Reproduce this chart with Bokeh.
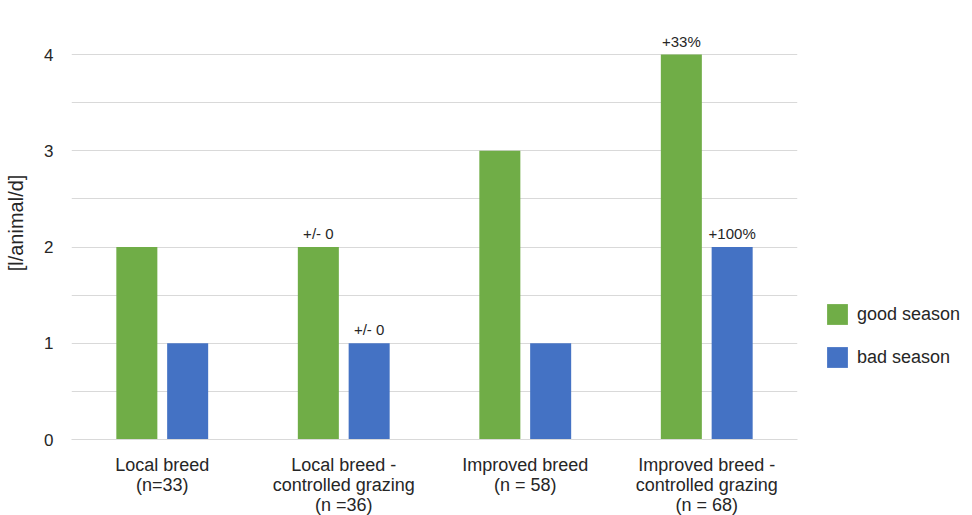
from bokeh.plotting import figure
from bokeh.models import (ColumnDataSource, FixedTicker, Range1d, Legend, LegendItem)
from bokeh.core.properties import value
from bokeh.embed import file_html
from bokeh.resources import INLINE

# Milk yield per animal and day, by herd type and season
categories = [
    "Local breed\n(n=33)",
    "Local breed -\ncontrolled grazing\n(n =36)",
    "Improved breed\n(n = 58)",
    "Improved breed -\ncontrolled grazing\n(n = 68)",
]
good_season = [2, 2, 3, 4]
bad_season = [1, 1, 1, 2]
good_change = ["", "+/- 0", "", "+33%"]
bad_change = ["", "+/- 0", "", "+100%"]
y_ticks = [0, 1, 2, 3, 4]

GREEN = "#70AD47"
BLUE = "#4472C4"
GRID = "#d9d9d9"
TEXT = "#262626"
FONT = "Liberation Sans"

centers = [i + 0.5 for i in range(len(categories))]
offset = 0.14
bar_w = 0.226

src = ColumnDataSource(dict(
    xg=[c - offset for c in centers],
    xb=[c + offset for c in centers],
    good=good_season,
    bad=bad_season,
    gl=good_change,
    bl=bad_change,
))

p = figure(frame_width=726, frame_height=433, output_backend="svg",
           toolbar_location=None,
           x_range=Range1d(0, len(categories)), y_range=Range1d(0, 4.5),
           min_border_left=71, min_border_right=175, min_border_top=6,
           min_border_bottom=76)
p.outline_line_color = None
p.background_fill_color = "white"
p.border_fill_color = "white"

r_good = p.vbar(x="xg", top="good", width=bar_w, source=src,
                fill_color=GREEN, line_color=None)
r_bad = p.vbar(x="xb", top="bad", width=bar_w, source=src,
               fill_color=BLUE, line_color=None)

# change annotations above the bars
p.text(x="xg", y="good", text="gl", source=src, text_align="center",
       text_baseline="bottom", y_offset=-5, text_font=value(FONT),
       text_font_size="15px", text_color=TEXT)
p.text(x="xb", y="bad", text="bl", source=src, text_align="center",
       text_baseline="bottom", y_offset=-5, text_font=value(FONT),
       text_font_size="15px", text_color=TEXT)

# x axis with multi-line category labels
p.xaxis.ticker = FixedTicker(ticks=centers)
p.xaxis.major_label_overrides = {c: lab for c, lab in zip(centers, categories)}
p.xaxis.major_label_text_font = FONT
p.xaxis.major_label_text_font_size = "18px"
p.xaxis.major_label_text_line_height = 1.0
p.xaxis.major_label_text_color = TEXT
p.xaxis.major_label_standoff = 9
p.xaxis.axis_line_color = GRID
p.xaxis.major_tick_line_color = None
p.xaxis.minor_tick_line_color = None
p.xgrid.grid_line_color = None

# y axis
p.yaxis.ticker = FixedTicker(ticks=y_ticks)
p.yaxis.major_label_text_font = FONT
p.yaxis.major_label_text_font_size = "17px"
p.yaxis.major_label_text_color = TEXT
p.yaxis.major_label_standoff = 12
p.yaxis.axis_line_color = None
p.yaxis.major_tick_line_color = None
p.yaxis.minor_tick_line_color = None
p.yaxis.axis_label = "[l/animal/d]"
p.yaxis.axis_label_text_font = FONT
p.yaxis.axis_label_text_font_size = "20px"
p.yaxis.axis_label_text_font_style = "normal"
p.yaxis.axis_label_text_color = TEXT
p.yaxis.axis_label_standoff = 14
p.ygrid.ticker = FixedTicker(ticks=[i * 0.5 for i in range(10)])
p.ygrid.grid_line_color = GRID
p.ygrid.grid_line_width = 1

legend = Legend(items=[LegendItem(label="good season", renderers=[r_good]),
                       LegendItem(label="bad season", renderers=[r_bad])],
                location=(27, 69), orientation="vertical",
                glyph_width=26, glyph_height=26, label_height=26,
                spacing=17, padding=0, margin=0, label_standoff=7,
                border_line_color=None, background_fill_alpha=0,
                label_text_font=FONT, label_text_font_size="18px",
                label_text_color=TEXT)
p.add_layout(legend, "right")

open("out.html", "w").write(file_html(p, INLINE))
